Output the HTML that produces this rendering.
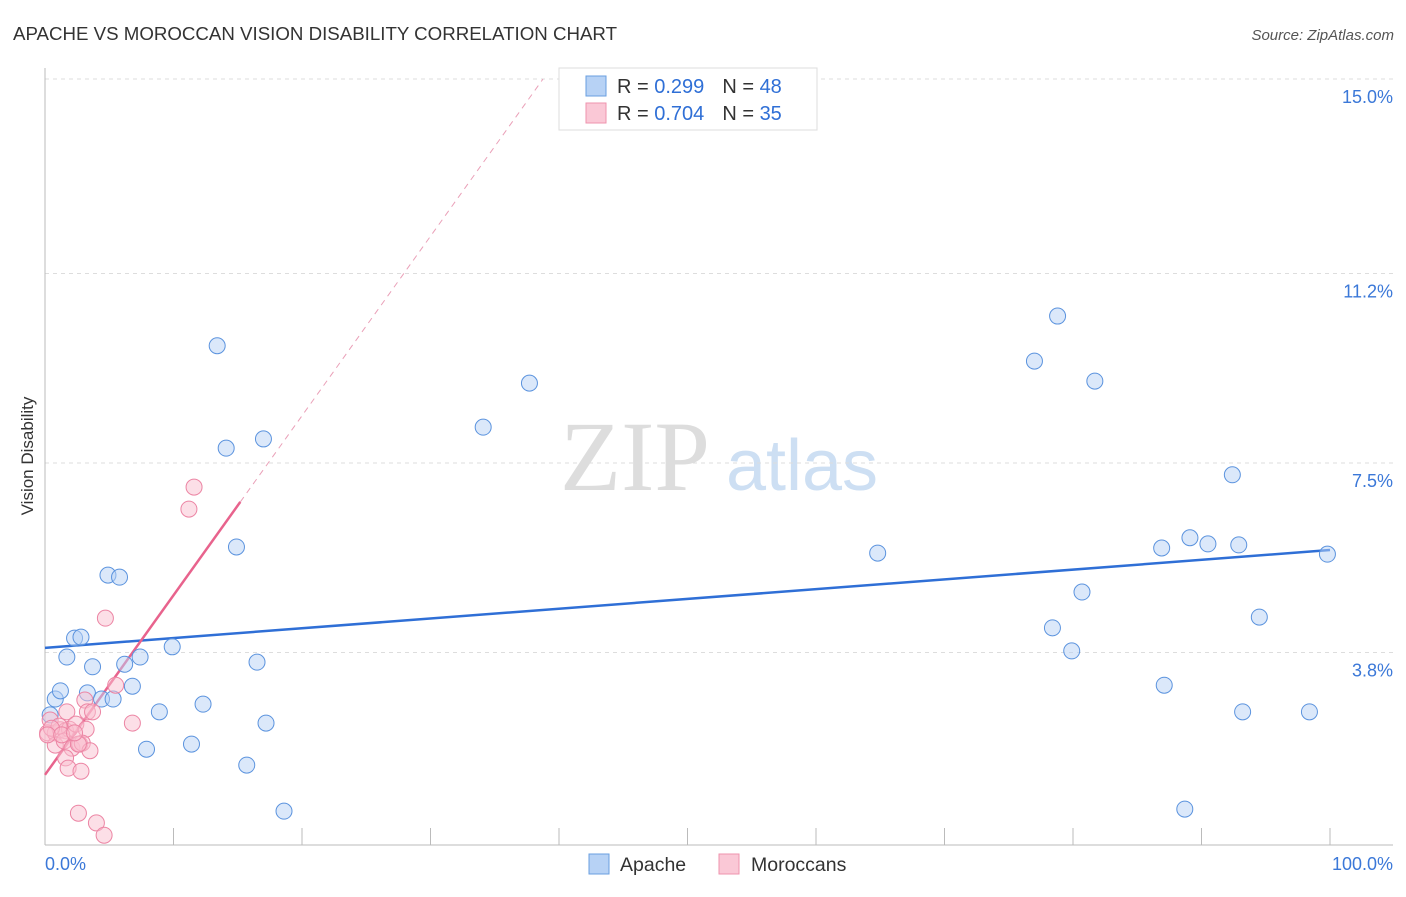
<!DOCTYPE html>
<html><head><meta charset="utf-8"><style>
body{margin:0;background:#fff;font-family:"Liberation Sans",sans-serif;}
</style></head><body>
<svg id="chart" width="1406" height="892" font-family="Liberation Sans, sans-serif">
<text x="13" y="40" font-size="18.7" fill="#333">APACHE VS MOROCCAN VISION DISABILITY CORRELATION CHART</text>
<text x="1394" y="40" font-size="15" fill="#555" font-style="italic" text-anchor="end">Source: ZipAtlas.com</text>
<text x="33" y="456" font-size="17" fill="#333" transform="rotate(-90 33 456)" text-anchor="middle">Vision Disability</text>
<text x="635" y="490" font-size="100" fill="#ddd" style="font-family:'Liberation Serif',serif" text-anchor="middle">ZIP</text>
<text x="802" y="490" font-size="72" fill="#cddff3" text-anchor="middle">atlas</text>
<g id="grid"></g><g id="axes"></g><g id="trend"></g><g id="pts"></g>
<g>
<rect x="559" y="68" width="258" height="62" fill="#fff" stroke="#ddd"/>
<rect x="586" y="76" width="20" height="20" fill="#b7d2f5" stroke="#6a9fe0"/>
<rect x="586" y="103" width="20" height="20" fill="#fac8d6" stroke="#ef93ae"/>
<text x="617" y="93" font-size="20" fill="#333">R = <tspan fill="#2f6fd6">0.299</tspan><tspan dx="18" fill="#333">N = </tspan><tspan fill="#2f6fd6">48</tspan></text>
<text x="617" y="120" font-size="20" fill="#333">R = <tspan fill="#2f6fd6">0.704</tspan><tspan dx="18" fill="#333">N = </tspan><tspan fill="#2f6fd6">35</tspan></text>
</g>
<g>
<rect x="589" y="854" width="20" height="20" fill="#b7d2f5" stroke="#6a9fe0"/>
<text x="620" y="871" font-size="19.5" fill="#333">Apache</text>
<rect x="719" y="854" width="20" height="20" fill="#fac8d6" stroke="#ef93ae"/>
<text x="751" y="871" font-size="19.5" fill="#333">Moroccans</text>
</g>
</svg>
<script>
const yTicks=[15.0,11.2,7.5,3.8];
const yTickLabels=["15.0%","11.2%","7.5%","3.8%"];
const xTickLabels=["0.0%","100.0%"];
const apacheX=[13.4,14.1,17.0,14.9,4.9,5.8,2.3,2.8,1.7,3.7,6.2,7.4,9.9,6.8,0.8,1.2,3.3,4.4,5.3,8.9,12.3,16.5,17.2,7.9,11.4,15.7,18.6,34.1,37.7,64.8,78.8,77.0,81.7,92.4,86.9,89.1,90.5,92.9,99.8,80.7,78.4,79.9,94.5,87.1,93.2,98.4,88.7,0.4];
const apacheY=[9.79,7.79,7.97,5.86,5.31,5.27,4.08,4.10,3.71,3.52,3.57,3.71,3.91,3.14,2.89,3.05,3.01,2.89,2.89,2.64,2.79,3.61,2.42,1.91,2.01,1.60,0.70,8.20,9.06,5.74,10.37,9.49,9.10,7.27,5.84,6.04,5.92,5.90,5.72,4.98,4.28,3.83,4.49,3.16,2.64,2.64,0.74,2.58];
const morX=[11.6,11.2,4.7,5.5,3.1,3.3,3.7,6.8,0.4,0.2,0.8,1.2,1.6,1.9,1.7,2.4,3.2,0.8,1.5,2.1,2.7,2.9,3.5,1.6,1.8,2.8,2.6,1.1,0.5,0.2,1.3,2.6,4.0,4.6,2.3];
const morY=[7.03,6.60,4.47,3.16,2.87,2.64,2.64,2.42,2.48,2.23,2.23,2.29,2.27,2.30,2.64,2.40,2.30,1.99,2.07,1.93,2.01,2.03,1.88,1.74,1.54,1.48,2.01,2.36,2.32,2.19,2.19,0.66,0.47,0.23,2.23];
const apacheTrend=[3.89,5.80];
const morTrend=[1.41,6.74,15.2];
const NS="http://www.w3.org/2000/svg";
const X=v=>45+v*12.85, Y=v=>847-v*51.2;
function mk(p,t,a){const e=document.createElementNS(NS,t);for(const k in a)e.setAttribute(k,a[k]);document.getElementById(p).appendChild(e);return e;}
yTicks.forEach((t,i)=>{
 const l=mk('grid','line',{x1:45,x2:1393,y1:Y(t),y2:Y(t),stroke:'#ddd','stroke-dasharray':'4 4'});
 
 
 const tx=mk('grid','text',{x:1393,y:Y(t)+24,'font-size':18,fill:'#3b78d8','text-anchor':'end'});tx.textContent=yTickLabels[i];
 
 
});
mk('axes','line',{x1:45,x2:45,y1:68,y2:845,stroke:'#bbb'});
mk('axes','line',{x1:45,x2:1393,y1:845,y2:845,stroke:'#bbb'});
for(let i=0;i<=10;i++){const t=mk('axes','line',{x1:X(i*10),x2:X(i*10),y1:828,y2:845,stroke:'#bbb'});
 
 }
let a=mk('axes','text',{x:45,y:870,'font-size':18,fill:'#3b78d8'});a.textContent=xTickLabels[0];


a=mk('axes','text',{x:1393,y:870,'font-size':18,fill:'#3b78d8','text-anchor':'end'});a.textContent=xTickLabels[1];


function pts(xs,ys,fill,stroke,name){xs.forEach((x,i)=>{const c=mk('pts','circle',{cx:X(x),cy:Y(ys[i]),r:8,fill:fill,'fill-opacity':0.5,stroke:stroke,'stroke-width':1});
 
 });}
pts(apacheX,apacheY,'#b7d2f5','#5b93de','apache-point');
pts(morX,morY,'#f9bfd0','#ec85a4','moroccan-point');
let t=mk('trend','line',{x1:X(0),y1:Y(apacheTrend[0]),x2:X(100),y2:Y(apacheTrend[1]),stroke:'#2f6fd6','stroke-width':2.5});


const slope=(morTrend[1]-morTrend[0])/morTrend[2];
t=mk('trend','line',{x1:X(0),y1:Y(morTrend[0]),x2:X(morTrend[2]),y2:Y(morTrend[1]),stroke:'#e8638d','stroke-width':2.5});


const xe=(15.0-morTrend[0])/slope;
t=mk('trend','line',{x1:X(morTrend[2]),y1:Y(morTrend[1]),x2:X(xe),y2:Y(15.0),stroke:'#eaa0b8','stroke-width':1,'stroke-dasharray':'6 5'});


</script>
</body></html>
